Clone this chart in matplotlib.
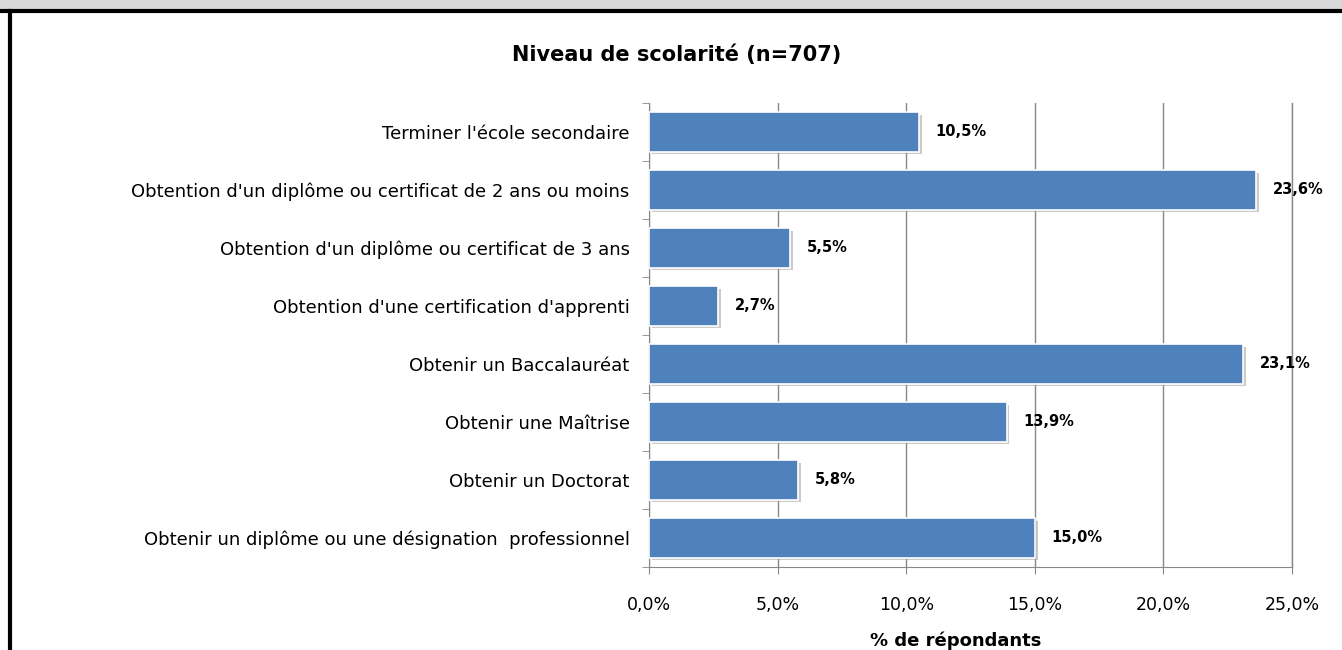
import numpy as np
import matplotlib.pyplot as plt
import matplotlib.patheffects as pe

categories = [
    "Terminer l'école secondaire",
    "Obtention d'un diplôme ou certificat de 2 ans ou moins",
    "Obtention d'un diplôme ou certificat de 3 ans",
    "Obtention d'une certification d'apprenti",
    "Obtenir un Baccalauréat",
    "Obtenir une Maîtrise",
    "Obtenir un Doctorat",
    "Obtenir un diplôme ou une désignation  professionnel",
]
values = [10.5, 23.6, 5.5, 2.7, 23.1, 13.9, 5.8, 15.0]
xticks = [0, 5, 10, 15, 20, 25]

# the reference text is drawn wide, DejaVu Sans gets closest to that width
plt.rcParams['font.family'] = ['DejaVu Sans']

W, H = 1342, 650
fig = plt.figure(figsize=(W / 100, H / 100), dpi=100)

# top banner and frame lines
fig.patches.append(plt.Rectangle((0, 1 - 10 / H), 1, 10 / H, transform=fig.transFigure,
                                 facecolor="#d9d9d9", edgecolor="none"))
fig.add_artist(plt.Line2D([0, 1], [1 - 11 / H, 1 - 11 / H], transform=fig.transFigure,
                          color="black", lw=3))
fig.add_artist(plt.Line2D([10 / W, 10 / W], [0, 1 - 11 / H], transform=fig.transFigure,
                          color="black", lw=3))

ax = fig.add_axes([649 / W, 1 - 567 / H, (1292 - 649) / W, (567 - 103) / H])
y = np.arange(len(categories))
bars = ax.barh(y, values, height=0.68, color="#4f81bd", edgecolor="white", linewidth=1.2,
               zorder=3)
for b in bars:
    b.set_path_effects([pe.SimplePatchShadow(offset=(2, -2), shadow_rgbFace="#999999", alpha=0.5),
                        pe.Normal()])
for yi, v in zip(y, values):
    ax.text(v + 0.65, yi, f"{v:.1f}%".replace(".", ","), va="center", ha="left",
            fontsize=10.5, fontweight="bold", zorder=4)

ax.set_xlim(0, 25)
ax.set_ylim(len(categories) - 0.5, -0.5)
ax.set_xticks(xticks)
ax.set_xticklabels([f"{t:.1f}%".replace(".", ",") for t in xticks], fontsize=12.5)
ax.set_yticks(y)
ax.set_yticklabels(categories, fontsize=13)
ax.set_yticks(np.arange(len(categories) + 1) - 0.5, minor=True)
ax.tick_params(axis="y", which="major", length=0, pad=14)
ax.tick_params(axis="y", which="minor", length=5, color="#888888", direction="out")
ax.tick_params(axis="x", length=5, color="#888888", pad=16)
ax.grid(axis="x", color="#888888", lw=1, zorder=0)
ax.axvline(25, color="#888888", lw=1, zorder=0, clip_on=False)
for s in ["top", "right"]:
    ax.spines[s].set_visible(False)
ax.spines["left"].set_color("#888888")
ax.spines["bottom"].set_color("#888888")
ax.set_xlabel("% de répondants", fontsize=13, fontweight="bold")
ax.xaxis.set_label_coords(0.477, -0.138)

fig.text(677 / W, 1 - 55 / H, "Niveau de scolarité (n=707)", ha="center", va="center",
         fontsize=15, fontweight="bold")

fig.savefig("out.png", dpi=100)
